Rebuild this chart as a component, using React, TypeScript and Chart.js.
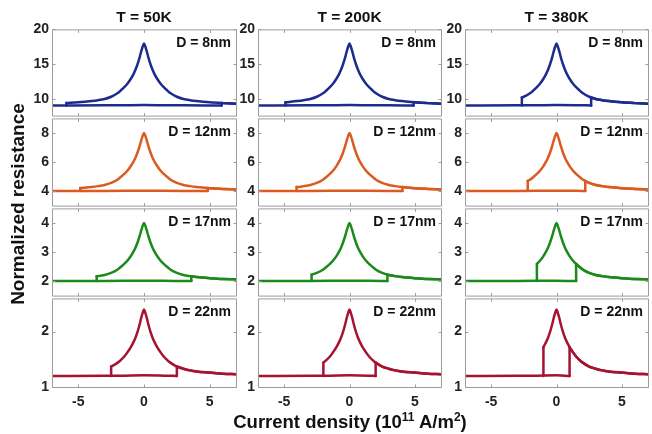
import React, { useEffect, useRef } from 'react';
import { Chart, registerables } from 'chart.js';

Chart.register(...registerables);

// ---------------- data ----------------
const temperatures = ['T = 50K', 'T = 200K', 'T = 380K'];
const diameters = ['D = 8nm', 'D = 12nm', 'D = 17nm', 'D = 22nm'];

// current density grid (10^11 A/m^2) for the peaked branch
const currentGrid = [-7, -6, -5, -4, -3.5, -3, -2.5, -2, -1.75, -1.5, -1.25, -1, -0.8, -0.65, -0.5, -0.4, -0.3, -0.2, -0.1, 0,
  0.1, 0.2, 0.3, 0.4, 0.5, 0.65, 0.8, 1, 1.25, 1.5, 1.75, 2, 2.5, 3, 3.5, 4, 5, 6, 7];

const peakD8 = [9.40, 9.48, 9.59, 9.77, 9.90, 10.08, 10.39, 10.92, 11.32, 11.76, 12.29, 12.96, 13.62, 14.24, 14.99, 15.57, 16.23, 16.94, 17.56, 18.00,
  17.56, 16.94, 16.23, 15.57, 14.99, 14.24, 13.62, 12.96, 12.29, 11.76, 11.32, 10.92, 10.39, 10.08, 9.90, 9.77, 9.59, 9.48, 9.40];
const peakD12 = [4.11, 4.15, 4.20, 4.28, 4.34, 4.42, 4.56, 4.80, 4.98, 5.18, 5.42, 5.72, 6.02, 6.30, 6.64, 6.90, 7.20, 7.52, 7.80, 8.00,
  7.80, 7.52, 7.20, 6.90, 6.64, 6.30, 6.02, 5.72, 5.42, 5.18, 4.98, 4.80, 4.56, 4.42, 4.34, 4.28, 4.20, 4.15, 4.11];
const peakD17 = [2.06, 2.07, 2.10, 2.14, 2.17, 2.21, 2.28, 2.40, 2.49, 2.59, 2.71, 2.86, 3.01, 3.15, 3.32, 3.45, 3.60, 3.76, 3.90, 4.00,
  3.90, 3.76, 3.60, 3.45, 3.32, 3.15, 3.01, 2.86, 2.71, 2.59, 2.49, 2.40, 2.28, 2.21, 2.17, 2.14, 2.10, 2.07, 2.06];
const peakD22 = [1.23, 1.24, 1.26, 1.28, 1.30, 1.33, 1.37, 1.44, 1.49, 1.55, 1.63, 1.72, 1.81, 1.89, 1.99, 2.07, 2.16, 2.26, 2.34, 2.40,
  2.34, 2.26, 2.16, 2.07, 1.99, 1.89, 1.81, 1.72, 1.63, 1.55, 1.49, 1.44, 1.37, 1.33, 1.30, 1.28, 1.26, 1.24, 1.23];

// flat (low) branch
const baselineGrid = [-7, -3, -1.5, 0, 1.5, 3, 7];
const baseD8 = [9.15, 9.16, 9.18, 9.2, 9.18, 9.16, 9.15];
const baseD12 = [4.0, 4.005, 4.015, 4.03, 4.015, 4.005, 4.0];
const baseD17 = [2.0, 2.003, 2.008, 2.015, 2.008, 2.003, 2.0];
const baseD22 = [1.2, 1.202, 1.205, 1.21, 1.205, 1.202, 1.2];

// switching current for 50K, 200K, 380K and the resistance at the top of the jump
const switchD8 = [5.9, 4.9, 2.65];
const jumpTopD8 = [9.49, 9.6, 10.3];
const switchD12 = [4.85, 4.05, 2.2];
const jumpTopD12 = [4.21, 4.28, 4.7];
const switchD17 = [3.6, 2.9, 1.5];
const jumpTopD17 = [2.165, 2.22, 2.59];
const switchD22 = [2.5, 2.0, 1.0];
const jumpTopD22 = [1.37, 1.44, 1.72];

// axes
const xRange = [-7, 7];
const xTicks = [-5, 0, 5];
const yRangeD8 = [7.7, 20];
const yTicksD8 = [10, 15, 20];
const yRangeD12 = [3, 9];
const yTicksD12 = [4, 6, 8];
const yRangeD17 = [1.5, 4.5];
const yTicksD17 = [2, 3, 4];
const yRangeD22 = [1, 2.6];
const yTicksD22 = [1, 2];

const rowColors = ['#1c2c8c', '#db5a1f', '#1b8a1b', '#a6122f'];

// ---------------- layout ----------------
const COL_LEFT = [52, 258, 465];
const COL_W = [184, 183, 183];
const ROW_TOP = [28, 117, 207, 297];
const ROW_H = [89, 90, 90, 90];
const Y_AXIS_W = 44;
const FONT = "'Liberation Sans', Arial, Helvetica, sans-serif";

const ROWS = [
  { label: diameters[0], peak: peakD8, base: baseD8, jc: switchD8, top: jumpTopD8, range: yRangeD8, ticks: yTicksD8, color: rowColors[0] },
  { label: diameters[1], peak: peakD12, base: baseD12, jc: switchD12, top: jumpTopD12, range: yRangeD12, ticks: yTicksD12, color: rowColors[1] },
  { label: diameters[2], peak: peakD17, base: baseD17, jc: switchD17, top: jumpTopD17, range: yRangeD17, ticks: yTicksD17, color: rowColors[2] },
  { label: diameters[3], peak: peakD22, base: baseD22, jc: switchD22, top: jumpTopD22, range: yRangeD22, ticks: yTicksD22, color: rowColors[3] },
];

type P = { x: number; y: number };

function buildSegments(row: any, c: number) {
  const jc = row.jc[c];
  const top = row.top[c];
  const b = row.base[0];
  // sweep from high current back down: peaked branch down to -jc, then drop to the flat branch
  const upperCurve: P[] = [{ x: -jc, y: top }];
  currentGrid.forEach((x, i) => { if (x > -jc) upperCurve.push({ x, y: row.peak[i] }); });
  const upperStep: P[] = [{ x: -jc, y: b }, { x: -jc, y: top }];
  // sweep upward: flat branch up to +jc, jump, then peaked branch
  const lowerFlat: P[] = [];
  baselineGrid.forEach((x, i) => { if (x < jc) lowerFlat.push({ x, y: row.base[i] }); });
  lowerFlat.push({ x: jc, y: b });
  const lowerStep: P[] = [{ x: jc, y: b }, { x: jc, y: top }];
  const lowerCurve: P[] = [{ x: jc, y: top }];
  currentGrid.forEach((x, i) => { if (x > jc) lowerCurve.push({ x, y: row.peak[i] }); });
  return { curves: [upperCurve, lowerFlat, lowerCurve], steps: [upperStep, lowerStep] };
}

function Panel({ r, c }: { r: number; c: number }) {
  const ref = useRef<HTMLCanvasElement>(null);
  const isBottom = r === ROWS.length - 1;
  const padTop = 10;
  const padBottom = isBottom ? 0 : 10;
  const xAxisH = isBottom ? 30 : 0;
  const width = COL_W[c] + Y_AXIS_W + 4;
  const height = ROW_H[r] + padTop + padBottom + xAxisH;
  const left = COL_LEFT[c] - Y_AXIS_W;
  const topPos = ROW_TOP[r] - padTop;

  useEffect(() => {
    const row = ROWS[r];
    const { curves, steps } = buildSegments(row, c);
    const decor = {
      id: 'decor' + r + c,
      afterDraw(chart: any) {
        const { ctx, chartArea: a, scales } = chart;
        ctx.save();
        ctx.strokeStyle = '#9c9c9c';
        ctx.lineWidth = 1;
        ctx.beginPath();
        ctx.rect(a.left + 0.5, a.top + 0.5, a.right - a.left, a.bottom - a.top);
        ctx.stroke();
        ctx.beginPath();
        const tl = 3;
        xTicks.forEach((v) => {
          const px = Math.round(scales.x.getPixelForValue(v)) + 0.5;
          ctx.moveTo(px, a.bottom + 0.5);
          ctx.lineTo(px, a.bottom + 0.5 - tl);
          ctx.moveTo(px, a.top + 0.5);
          ctx.lineTo(px, a.top + 0.5 + tl);
        });
        row.ticks.forEach((v: number) => {
          const py = Math.round(scales.y.getPixelForValue(v)) + 0.5;
          ctx.moveTo(a.left + 0.5, py);
          ctx.lineTo(a.left + 0.5 + tl, py);
          ctx.moveTo(a.right + 0.5, py);
          ctx.lineTo(a.right + 0.5 - tl, py);
        });
        ctx.stroke();
        ctx.fillStyle = '#111';
        ctx.font = `bold 14px ${FONT}`;
        ctx.textAlign = 'right';
        ctx.textBaseline = 'middle';
        ctx.fillText(row.label, a.right - 5, a.top + 14);
        ctx.restore();
      },
    };
    const tickFont = { family: FONT, size: 14, weight: 'bold' as const };
    const datasets: any[] = [];
    curves.forEach((d) => datasets.push({
      data: d, borderColor: row.color, backgroundColor: row.color,
      cubicInterpolationMode: 'monotone', borderCapStyle: 'round',
    }));
    steps.forEach((d) => datasets.push({
      data: d, borderColor: row.color, backgroundColor: row.color,
      tension: 0, cubicInterpolationMode: 'default', borderCapStyle: 'round',
    }));
    const chart = new Chart(ref.current as HTMLCanvasElement, {
      type: 'line',
      data: { datasets },
      options: {
        responsive: false,
        maintainAspectRatio: false,
        animation: false,
        events: [],
        layout: { padding: { left: 0, right: 4, top: padTop, bottom: padBottom } },
        plugins: { legend: { display: false }, tooltip: { enabled: false }, title: { display: false } },
        elements: {
          point: { radius: 0 },
          line: { borderWidth: 2.5, tension: 0, fill: false, borderJoinStyle: 'round' },
        },
        scales: {
          x: {
            type: 'linear',
            min: xRange[0],
            max: xRange[1],
            display: isBottom,
            grid: { display: false, drawTicks: false },
            border: { display: false },
            ticks: { padding: 7, font: tickFont, color: '#222', maxRotation: 0 },
            afterBuildTicks: (s: any) => { s.ticks = xTicks.map((v) => ({ value: v })); },
            afterFit: (s: any) => { s.height = xAxisH; },
          },
          y: {
            type: 'linear',
            min: row.range[0],
            max: row.range[1],
            grid: { display: false, drawTicks: false },
            border: { display: false },
            ticks: { padding: 3, font: tickFont, color: '#222' },
            afterBuildTicks: (s: any) => { s.ticks = row.ticks.map((v: number) => ({ value: v })); },
            afterFit: (s: any) => { s.width = Y_AXIS_W; },
          },
        },
      } as any,
      plugins: [decor],
    });
    return () => chart.destroy();
  }, [r, c]);

  return (
    <canvas
      ref={ref}
      width={width}
      height={height}
      style={{ position: 'absolute', left, top: topPos, width, height }}
    />
  );
}

export default function App() {
  const panels: JSX.Element[] = [];
  ROWS.forEach((_, r) => {
    temperatures.forEach((__, c) => {
      panels.push(<Panel key={`${r}-${c}`} r={r} c={c} />);
    });
  });
  return (
    <div
      style={{
        position: 'fixed',
        left: 0,
        top: 0,
        width: 652,
        height: 434,
        background: '#fff',
        overflow: 'hidden',
        fontFamily: FONT,
        color: '#111',
      }}
    >
      {panels}
      {temperatures.map((t, c) => (
        <div
          key={t}
          style={{
            position: 'absolute',
            left: COL_LEFT[c] + COL_W[c] / 2 - 100,
            width: 200,
            top: 8,
            lineHeight: '18px',
            textAlign: 'center',
            fontSize: 15.5,
            fontWeight: 'bold',
          }}
        >
          {t}
        </div>
      ))}
      <div
        style={{
          position: 'absolute',
          left: 18 - 150,
          top: 204 - 11,
          width: 300,
          lineHeight: '22px',
          textAlign: 'center',
          fontSize: 19,
          fontWeight: 'bold',
          transform: 'rotate(-90deg)',
          transformOrigin: '150px 11px',
        }}
      >
        Normalized resistance
      </div>
      <div
        style={{
          position: 'absolute',
          left: 350 - 200,
          top: 411,
          width: 400,
          lineHeight: '22px',
          textAlign: 'center',
          fontSize: 18.5,
          fontWeight: 'bold',
          whiteSpace: 'nowrap',
        }}
      >
        Current density (10
        <span style={{ fontSize: 12, position: 'relative', top: -7 }}>11</span> A/m
        <span style={{ fontSize: 12, position: 'relative', top: -7 }}>2</span>)
      </div>
    </div>
  );
}
